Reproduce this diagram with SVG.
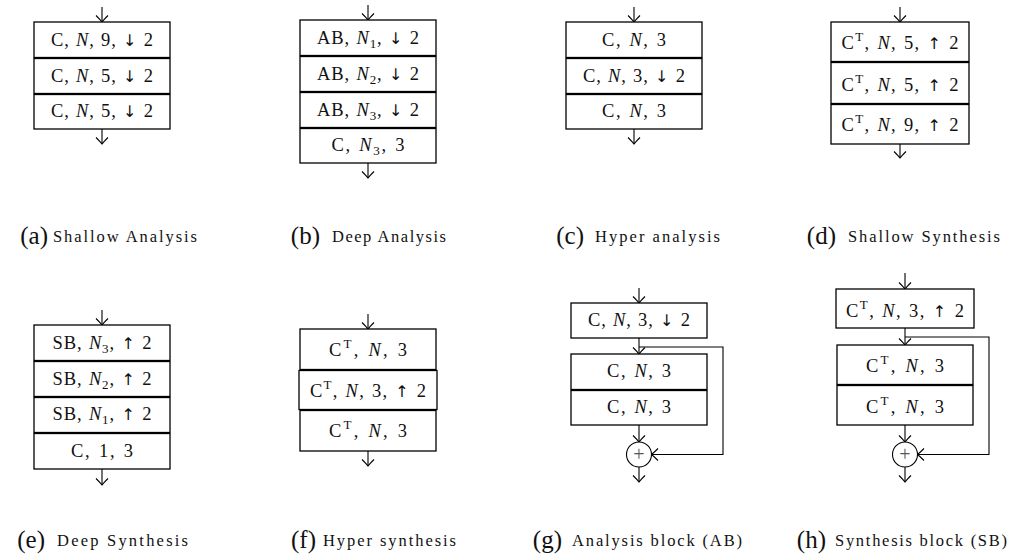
<svg xmlns="http://www.w3.org/2000/svg" width="1013" height="554" viewBox="0 0 1013 554">
<style>
.box{fill:#fff;stroke:#000;stroke-width:1.3}
.lbl{font-family:"Liberation Serif",serif;font-size:18.5px;text-anchor:middle;word-spacing:1px;fill:#111}
.it{font-style:italic}
.ar{font-family:"DejaVu Sans",sans-serif;font-size:16px}
.sub{font-size:13px}
.sup{font-size:13px}
.wire{fill:none;stroke:#000;stroke-width:1.1}
.arr{marker-end:url(#ah)}
.sum{fill:#fff;stroke:#000;stroke-width:1.1}
.plus{font-family:"Liberation Serif",serif;font-size:20px;text-anchor:middle;fill:#555}
.cap{font-family:"Liberation Serif",serif;font-size:16.5px;fill:#111}
.capl{font-family:"Liberation Serif",serif;font-size:25px;text-anchor:end;fill:#111}
</style>
<defs>
<marker id="ah" viewBox="-8 -7 9 14" refX="0" refY="0" markerWidth="9" markerHeight="14" markerUnits="userSpaceOnUse" orient="auto">
<path d="M-6.5,-6 Q-2,-1.5 0,0 Q-2,1.5 -6.5,6" fill="none" stroke="#000" stroke-width="1.1"/>
</marker>
</defs>

<g id="connectors">
<line class="wire arr" x1="102" y1="7" x2="102" y2="22"/>
<line class="wire arr" x1="102" y1="129" x2="102" y2="144"/>
<line class="wire arr" x1="368" y1="5" x2="368" y2="20"/>
<line class="wire arr" x1="368" y1="163" x2="368" y2="178"/>
<line class="wire arr" x1="634" y1="7" x2="634" y2="22"/>
<line class="wire arr" x1="634" y1="129" x2="634" y2="144"/>
<line class="wire arr" x1="900" y1="7" x2="900" y2="22"/>
<line class="wire arr" x1="900" y1="144" x2="900" y2="158"/>
<line class="wire arr" x1="102" y1="310" x2="102" y2="325"/>
<line class="wire arr" x1="102" y1="469" x2="102" y2="485"/>
<line class="wire arr" x1="368" y1="314" x2="368" y2="329"/>
<line class="wire arr" x1="368" y1="451" x2="368" y2="466"/>
<line class="wire arr" x1="639" y1="288" x2="639" y2="303"/>
<line class="wire arr" x1="639" y1="338" x2="639" y2="354"/>
<polyline class="wire arr" points="639,347 723,347 723,454.5 651.5,454.5"/>
<line class="wire arr" x1="639" y1="425" x2="639" y2="442"/>
<line class="wire arr" x1="639" y1="467" x2="639" y2="482"/>
<line class="wire arr" x1="905" y1="273" x2="905" y2="289"/>
<line class="wire arr" x1="905" y1="328" x2="905" y2="345"/>
<polyline class="wire arr" points="905,337 989,337 989,454.5 917.5,454.5"/>
<line class="wire arr" x1="905" y1="425" x2="905" y2="442"/>
<line class="wire arr" x1="905" y1="467" x2="905" y2="482"/>
</g>

<!-- (a) Shallow Analysis -->
<g id="a-conv1"><rect class="box" x="34" y="22" width="136" height="35.5"/>
<text class="lbl" x="102" y="45.5" textLength="102">C, <tspan class="it">N</tspan>, 9, <tspan class="ar">↓</tspan> 2</text></g>
<g id="a-conv2"><rect class="box" x="34" y="58.5" width="136" height="35"/>
<text class="lbl" x="102" y="81.5" textLength="102">C, <tspan class="it">N</tspan>, 5, <tspan class="ar">↓</tspan> 2</text></g>
<g id="a-conv3"><rect class="box" x="34" y="94.5" width="136" height="34.5"/>
<text class="lbl" x="102" y="117" textLength="102">C, <tspan class="it">N</tspan>, 5, <tspan class="ar">↓</tspan> 2</text></g>

<!-- (b) Deep Analysis -->
<g id="b-ab1"><rect class="box" x="300" y="20" width="136" height="35.5"/>
<text class="lbl" x="368" y="43.5" textLength="102">AB, <tspan class="it">N</tspan><tspan class="sub" dy="4">1</tspan><tspan dy="-4">, </tspan><tspan class="ar">↓</tspan> 2</text></g>
<g id="b-ab2"><rect class="box" x="300" y="56.5" width="136" height="35"/>
<text class="lbl" x="368" y="79.5" textLength="102">AB, <tspan class="it">N</tspan><tspan class="sub" dy="4">2</tspan><tspan dy="-4">, </tspan><tspan class="ar">↓</tspan> 2</text></g>
<g id="b-ab3"><rect class="box" x="300" y="92.5" width="136" height="35"/>
<text class="lbl" x="368" y="115.5" textLength="102">AB, <tspan class="it">N</tspan><tspan class="sub" dy="4">3</tspan><tspan dy="-4">, </tspan><tspan class="ar">↓</tspan> 2</text></g>
<g id="b-conv"><rect class="box" x="300" y="128.5" width="136" height="34.5"/>
<text class="lbl" x="368" y="151" textLength="73">C, <tspan class="it">N</tspan><tspan class="sub" dy="4">3</tspan><tspan dy="-4">, 3</tspan></text></g>

<!-- (c) Hyper analysis -->
<g id="c-conv1"><rect class="box" x="566" y="22" width="136" height="35.5"/>
<text class="lbl" x="634" y="45.5" textLength="64">C, <tspan class="it">N</tspan>, 3</text></g>
<g id="c-conv2"><rect class="box" x="566" y="58.5" width="136" height="35"/>
<text class="lbl" x="634" y="81.5" textLength="102">C, <tspan class="it">N</tspan>, 3, <tspan class="ar">↓</tspan> 2</text></g>
<g id="c-conv3"><rect class="box" x="566" y="94.5" width="136" height="34.5"/>
<text class="lbl" x="634" y="117" textLength="64">C, <tspan class="it">N</tspan>, 3</text></g>

<!-- (d) Shallow Synthesis -->
<g id="d-tconv1"><rect class="box" x="831" y="22" width="138" height="39.5"/>
<text class="lbl" x="900" y="49" textLength="117">C<tspan class="sup" dy="-8">T</tspan><tspan dy="8">, </tspan><tspan class="it">N</tspan>, 5, <tspan class="ar">↑</tspan> 2</text></g>
<g id="d-tconv2"><rect class="box" x="831" y="62.5" width="138" height="41"/>
<text class="lbl" x="900" y="90.5" textLength="117">C<tspan class="sup" dy="-8">T</tspan><tspan dy="8">, </tspan><tspan class="it">N</tspan>, 5, <tspan class="ar">↑</tspan> 2</text></g>
<g id="d-tconv3"><rect class="box" x="831" y="104.5" width="138" height="39.5"/>
<text class="lbl" x="900" y="131" textLength="117">C<tspan class="sup" dy="-8">T</tspan><tspan dy="8">, </tspan><tspan class="it">N</tspan>, 9, <tspan class="ar">↑</tspan> 2</text></g>

<!-- (e) Deep Synthesis -->
<g id="e-sb3"><rect class="box" x="34" y="325" width="136" height="35.5"/>
<text class="lbl" x="102" y="348.5" textLength="99">SB, <tspan class="it">N</tspan><tspan class="sub" dy="4">3</tspan><tspan dy="-4">, </tspan><tspan class="ar">↑</tspan> 2</text></g>
<g id="e-sb2"><rect class="box" x="34" y="361.5" width="136" height="35"/>
<text class="lbl" x="102" y="384.5" textLength="99">SB, <tspan class="it">N</tspan><tspan class="sub" dy="4">2</tspan><tspan dy="-4">, </tspan><tspan class="ar">↑</tspan> 2</text></g>
<g id="e-sb1"><rect class="box" x="34" y="397.5" width="136" height="35"/>
<text class="lbl" x="102" y="420" textLength="99">SB, <tspan class="it">N</tspan><tspan class="sub" dy="4">1</tspan><tspan dy="-4">, </tspan><tspan class="ar">↑</tspan> 2</text></g>
<g id="e-conv"><rect class="box" x="34" y="433.5" width="136" height="35.5"/>
<text class="lbl" x="102" y="457" textLength="62">C, 1, 3</text></g>

<!-- (f) Hyper synthesis -->
<g id="f-tconv1"><rect class="box" x="300" y="329" width="136" height="40.5"/>
<text class="lbl" x="368" y="356" textLength="78">C<tspan class="sup" dy="-8">T</tspan><tspan dy="8">, </tspan><tspan class="it">N</tspan>, 3</text></g>
<g id="f-tconv2"><rect class="box" x="299" y="370.5" width="138" height="39"/>
<text class="lbl" x="368" y="396.5" textLength="116">C<tspan class="sup" dy="-8">T</tspan><tspan dy="8">, </tspan><tspan class="it">N</tspan>, 3, <tspan class="ar">↑</tspan> 2</text></g>
<g id="f-tconv3"><rect class="box" x="300" y="410.5" width="136" height="40.5"/>
<text class="lbl" x="368" y="437" textLength="78">C<tspan class="sup" dy="-8">T</tspan><tspan dy="8">, </tspan><tspan class="it">N</tspan>, 3</text></g>

<!-- (g) Analysis block -->
<g id="g-conv-down"><rect class="box" x="571" y="303" width="136" height="35"/>
<text class="lbl" x="639" y="326" textLength="102">C, <tspan class="it">N</tspan>, 3, <tspan class="ar">↓</tspan> 2</text></g>
<g id="g-conv1"><rect class="box" x="571" y="354" width="136" height="35.5"/>
<text class="lbl" x="639" y="377" textLength="64">C, <tspan class="it">N</tspan>, 3</text></g>
<g id="g-conv2"><rect class="box" x="571" y="390.5" width="136" height="34.5"/>
<text class="lbl" x="639" y="413" textLength="64">C, <tspan class="it">N</tspan>, 3</text></g>
<g id="g-sum"><circle class="sum" cx="639" cy="454.5" r="12.5"/>
<text class="plus" x="639" y="461">+</text></g>

<!-- (h) Synthesis block -->
<g id="h-tconv-up"><rect class="box" x="836" y="289" width="138" height="39"/>
<text class="lbl" x="905" y="316.5" textLength="118">C<tspan class="sup" dy="-8">T</tspan><tspan dy="8">, </tspan><tspan class="it">N</tspan>, 3, <tspan class="ar">↑</tspan> 2</text></g>
<g id="h-tconv1"><rect class="box" x="837" y="345" width="136" height="39.5"/>
<text class="lbl" x="905" y="371.5" textLength="78">C<tspan class="sup" dy="-8">T</tspan><tspan dy="8">, </tspan><tspan class="it">N</tspan>, 3</text></g>
<g id="h-tconv2"><rect class="box" x="837" y="385.5" width="136" height="39.5"/>
<text class="lbl" x="905" y="412.5" textLength="78">C<tspan class="sup" dy="-8">T</tspan><tspan dy="8">, </tspan><tspan class="it">N</tspan>, 3</text></g>
<g id="h-sum"><circle class="sum" cx="905" cy="454.5" r="12.5"/>
<text class="plus" x="905" y="461">+</text></g>

<!-- captions -->
<g id="captions">
<text class="capl" x="48" y="244">(a)</text><text class="cap" x="53" y="242" textLength="144">Shallow Analysis</text>
<text class="capl" x="320" y="244">(b)</text><text class="cap" x="332" y="242" textLength="114">Deep Analysis</text>
<text class="capl" x="584" y="244">(c)</text><text class="cap" x="595" y="242" textLength="125">Hyper analysis</text>
<text class="capl" x="836" y="244">(d)</text><text class="cap" x="848" y="242" textLength="152">Shallow Synthesis</text>
<text class="capl" x="45" y="548">(e)</text><text class="cap" x="57" y="546" textLength="131">Deep Synthesis</text>
<text class="capl" x="316" y="548">(f)</text><text class="cap" x="323" y="546" textLength="133">Hyper synthesis</text>
<text class="capl" x="562" y="548">(g)</text><text class="cap" x="572" y="546" textLength="170">Analysis block (AB)</text>
<text class="capl" x="826" y="548">(h)</text><text class="cap" x="835" y="546" textLength="172">Synthesis block (SB)</text>
</g>
</svg>
